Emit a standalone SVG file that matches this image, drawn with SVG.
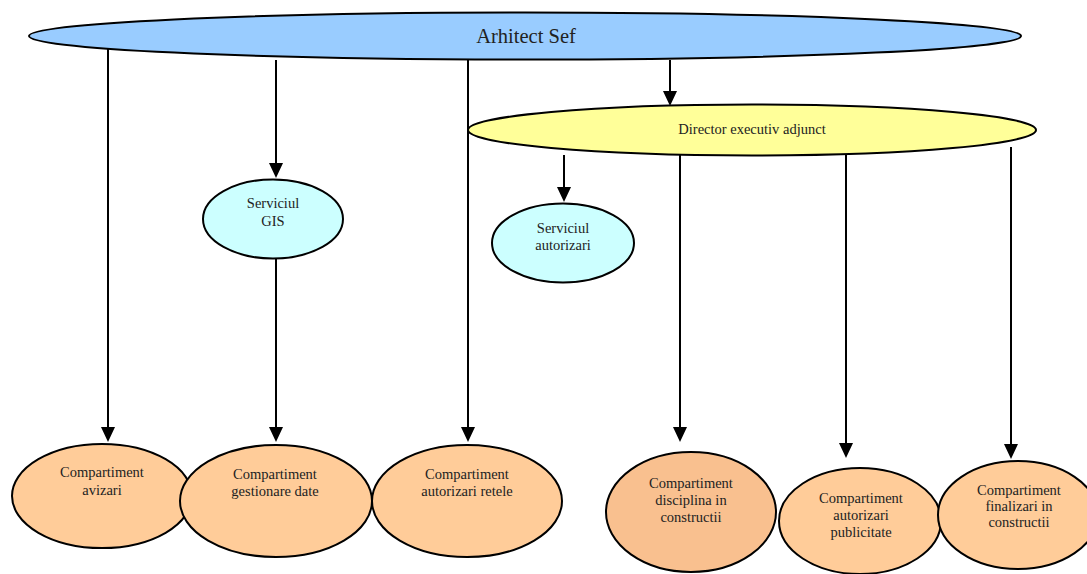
<svg xmlns="http://www.w3.org/2000/svg" width="1087" height="574" viewBox="0 0 1087 574">
<defs>
<style>
.n{stroke:#000;stroke-width:2}
.t{font-family:"Liberation Serif","Times New Roman",serif;font-size:14.5px;fill:#222;text-anchor:middle}
.c{fill:#ffcc99}
.e{stroke:#000;stroke-width:2;fill:none}
.h{fill:#000}
</style>
</defs>
<rect width="1087" height="574" fill="#fff"/>
<g id="connectors">
<line class="e" x1="108" y1="35" x2="108" y2="428"/>
<line class="e" x1="276" y1="60" x2="276" y2="164"/>
<line class="e" x1="276" y1="252" x2="276" y2="428"/>
<line class="e" x1="468" y1="60" x2="468" y2="428"/>
<line class="e" x1="670" y1="60" x2="670" y2="91"/>
<line class="e" x1="564" y1="155" x2="564" y2="188"/>
<line class="e" x1="680" y1="155" x2="680" y2="428"/>
<line class="e" x1="846" y1="155" x2="846" y2="444"/>
<line class="e" x1="1011" y1="147" x2="1011" y2="445"/>
</g>
<g id="nArhitect">
<ellipse class="n" cx="525" cy="36" rx="496" ry="23.5" fill="#99ccff"/>
<text class="t" x="526" y="43" style="font-size:20.5px">Arhitect Sef</text>
</g>
<g id="nDirector">
<ellipse class="n" cx="752" cy="130" rx="284" ry="25.5" fill="#ffff99"/>
<text class="t" x="752" y="134">Director executiv adjunct</text>
</g>
<g id="nGIS">
<ellipse class="n" cx="273" cy="219" rx="70" ry="39.5" fill="#ccffff"/>
<text class="t" x="273" y="208">Serviciul</text>
<text class="t" x="273" y="226">GIS</text>
</g>
<g id="nAutorizari">
<ellipse class="n" cx="563" cy="243" rx="71" ry="39.5" fill="#ccffff"/>
<text class="t" x="563" y="233">Serviciul</text>
<text class="t" x="563" y="250">autorizari</text>
</g>
<g id="nAvizari">
<ellipse class="n c" cx="102" cy="496" rx="90" ry="52"/>
<text class="t" x="102" y="477">Compartiment</text>
<text class="t" x="102" y="495">avizari</text>
</g>
<g id="nGestionare">
<ellipse class="n c" cx="276" cy="501" rx="96" ry="56"/>
<text class="t" x="275" y="479">Compartiment</text>
<text class="t" x="275" y="496">gestionare date</text>
</g>
<g id="nRetele">
<ellipse class="n c" cx="467" cy="501" rx="95" ry="56"/>
<text class="t" x="467" y="479">Compartiment</text>
<text class="t" x="467" y="496">autorizari retele</text>
</g>
<g id="nDisciplina">
<ellipse class="n" cx="691" cy="512" rx="85" ry="60" fill="#f9c08f"/>
<text class="t" x="691" y="488">Compartiment</text>
<text class="t" x="691" y="505">disciplina in</text>
<text class="t" x="691" y="522">constructii</text>
</g>
<g id="nPublicitate">
<ellipse class="n c" cx="860" cy="521" rx="81" ry="53"/>
<text class="t" x="861" y="503">Compartiment</text>
<text class="t" x="861" y="520">autorizari</text>
<text class="t" x="861" y="537">publicitate</text>
</g>
<g id="nFinalizari">
<ellipse class="n c" cx="1018" cy="515" rx="80" ry="54"/>
<text class="t" x="1019" y="495">Compartiment</text>
<text class="t" x="1019" y="511">finalizari in</text>
<text class="t" x="1019" y="527">constructii</text>
</g>
<g id="arrowheads">
<path class="h" d="M101,427 L115,427 L108,442 Z"/>
<path class="h" d="M269,163 L283,163 L276,178 Z"/>
<path class="h" d="M269,427 L283,427 L276,442 Z"/>
<path class="h" d="M461,427 L475,427 L468,442 Z"/>
<path class="h" d="M663,91 L677,91 L670,106 Z"/>
<path class="h" d="M557,187 L571,187 L564,202 Z"/>
<path class="h" d="M673,427 L687,427 L680,442 Z"/>
<path class="h" d="M839,443 L853,443 L846,458 Z"/>
<path class="h" d="M1004,444 L1018,444 L1011,459 Z"/>
</g>
</svg>
